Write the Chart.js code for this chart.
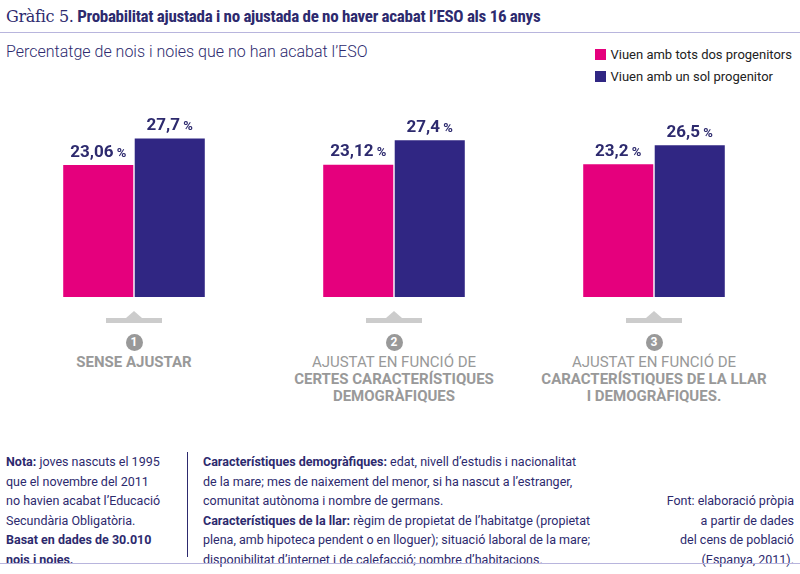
<!DOCTYPE html>
<html><head><meta charset="utf-8">
<script src="https://cdn.jsdelivr.net/npm/chart.js@4/dist/chart.umd.min.js"></script>
<style>
body{margin:0;width:800px;height:574px;background:#fff;font-family:"Roboto Condensed","Liberation Sans Narrow",Roboto,sans-serif;position:relative;overflow:hidden;color:#2d2a6e}
#title{position:absolute;left:6px;top:6px;font-size:17px;letter-spacing:-0.3px}
#title .g{font-family:"DejaVu Serif",serif;font-size:16px;color:#2d2a6e}
#title b{color:#2d2a6e}
#line1{position:absolute;left:0;top:32px;width:800px;border-top:1px solid #b8b5dd}
#sub{position:absolute;left:6px;top:42px;font-size:16px;color:#2d2a6e;font-family:Roboto,sans-serif;font-weight:300}
#leg{position:absolute;right:8px;top:44px;font-size:13px;font-family:Roboto,sans-serif;color:#222;line-height:22px}
#leg span{display:inline-block;width:11px;height:11px;margin-right:5px;vertical-align:-1px}
#wrap{position:absolute;left:4px;top:60px;width:780px;height:237px}
.cat{position:absolute;top:318px;width:260px;text-align:center;color:#999;font-family:Roboto,sans-serif;font-size:15px;line-height:17px}
.cat .tab{margin:0 auto 10px;width:56px;height:5px;background:#ccc;position:relative}
.cat .tab:before{content:"";position:absolute;left:20px;top:-7px;border-left:8px solid transparent;border-right:8px solid transparent;border-bottom:7px solid #ccc}
.cat .n{display:inline-block;width:17px;height:17px;border-radius:50%;background:#999;color:#fff;font-weight:bold;font-size:12px;line-height:17px;margin-bottom:3px}
.foot{position:absolute;top:452px;font-family:Roboto,sans-serif;font-size:12.5px;line-height:19.5px;color:#2d2a6e}
#line2{position:absolute;left:0;top:563px;width:800px;border-top:1px solid #b8b5dd}
#vl{position:absolute;left:187px;top:452px;height:105px;border-left:1px solid #2d2a6e}
</style></head><body>
<div id="title"><span class="g">Gràfic 5.</span> <b>Probabilitat ajustada i no ajustada de no haver acabat l’ESO als 16 anys</b></div>
<div id="line1"></div>
<div id="sub">Percentatge de nois i noies que no han acabat l’ESO</div>
<div id="leg"><div><span style="background:#e5007d"></span>Viuen amb tots dos progenitors</div><div><span style="background:#302683"></span>Viuen amb un sol progenitor</div></div>
<div id="wrap"><canvas id="chart-area"></canvas></div>
<div class="cat" style="left:4px"><div class="tab"></div><div class="n">1</div><br><b>SENSE AJUSTAR</b></div>
<div class="cat" style="left:264px"><div class="tab"></div><div class="n">2</div><br>AJUSTAT EN FUNCIÓ DE<br><b>CERTES CARACTERÍSTIQUES<br>DEMOGRÀFIQUES</b></div>
<div class="cat" style="left:524px"><div class="tab"></div><div class="n">3</div><br>AJUSTAT EN FUNCIÓ DE<br><b>CARACTERÍSTIQUES DE LA LLAR<br>I DEMOGRÀFIQUES.</b></div>
<div class="foot" style="left:6px"><b>Nota:</b> joves nascuts el 1995<br>que el novembre del 2011<br>no havien acabat l’Educació<br>Secundària Obligatòria.<br><b>Basat en dades de 30.010<br>nois i noies.</b></div>
<div id="vl"></div>
<div class="foot" style="left:203px"><b>Característiques demogràfiques:</b> edat, nivell d’estudis i nacionalitat<br>de la mare; mes de naixement del menor, si ha nascut a l’estranger,<br>comunitat autònoma i nombre de germans.<br><b>Característiques de la llar:</b> règim de propietat de l’habitatge (propietat<br>plena, amb hipoteca pendent o en lloguer); situació laboral de la mare;<br>disponibilitat d’internet i de calefacció; nombre d’habitacions.</div>
<div class="foot" style="right:6px;top:491px;text-align:right">Font: elaboració pròpia<br>a partir de dades<br>del cens de població<br>(Espanya, 2011).</div>
<div id="line2"></div>
<script>
window.chartColors = {
	magenta: 'rgb(229, 0, 125)',
	purple: 'rgb(48, 38, 131)'
};

var labelsPlugin = {
	id: 'valueLabels',
	afterDatasetsDraw: function(chart) {
		var ctx = chart.ctx;
		ctx.save();
		ctx.fillStyle = '#2d2a6e';
		ctx.textAlign = 'center';
		ctx.textBaseline = 'bottom';
		chart.data.datasets.forEach(function(ds, i) {
			chart.getDatasetMeta(i).data.forEach(function(bar, j) {
				var txt = ds.data[j].toString().replace('.', ',');
				ctx.font = 'bold 17px Roboto, sans-serif';
				var w1 = ctx.measureText(txt).width;
				ctx.font = 'bold 13px Roboto, sans-serif';
				var w2 = ctx.measureText(' %').width;
				var x0 = bar.x - (w1 + w2) / 2;
				ctx.textAlign = 'left';
				ctx.font = 'bold 17px Roboto, sans-serif';
				ctx.fillText(txt, x0, bar.y - 4);
				ctx.font = 'bold 13px Roboto, sans-serif';
				ctx.fillText(' %', x0 + w1, bar.y - 5);
			});
		});
		ctx.restore();
	}
};

var config = {
	type: 'bar',
	data: {
		labels: ['Sense ajustar', 'Demogràfiques', 'Llar i demogràfiques'],
		datasets: [{
			label: 'Viuen amb tots dos progenitors',
			data: [23.06, 23.12, 23.2],
			backgroundColor: window.chartColors.magenta
		}, {
			label: 'Viuen amb un sol progenitor',
			data: [27.7, 27.4, 26.5],
			backgroundColor: window.chartColors.purple
		}]
	},
	options: {
		responsive: true,
		maintainAspectRatio: false,
		animation: false,
		layout: { padding: 0 },
		datasets: { bar: { categoryPercentage: 0.55, barPercentage: 0.98 } },
		scales: {
			x: { display: false },
			y: { display: false, min: 0, max: 41.4 }
		},
		plugins: { legend: { display: false }, tooltip: { enabled: false } }
	},
	plugins: [labelsPlugin]
};

window.onload = function() {
	var ctx = document.getElementById('chart-area').getContext('2d');
	window.myBar = new Chart(ctx, config);
};
</script>
</body></html>
